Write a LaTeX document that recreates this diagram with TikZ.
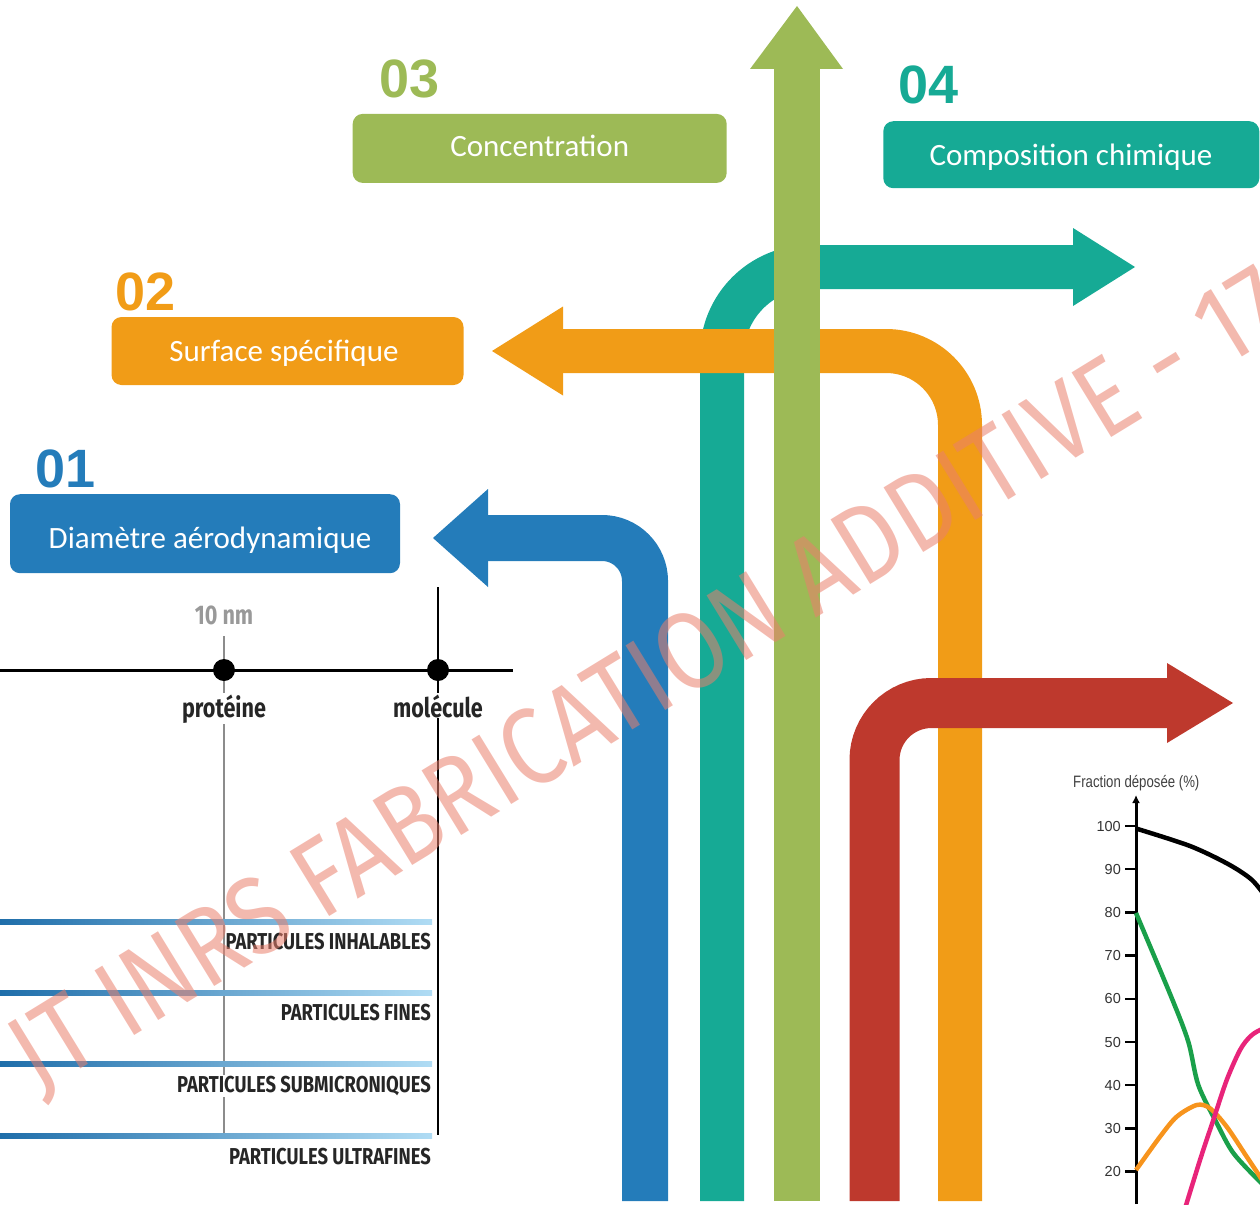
\documentclass[tikz,border=0pt]{standalone}
\usepackage{fontspec}
\usetikzlibrary{calc,arrows.meta}
\newfontfamily\boxfont{Carlito}
\newfontfamily\numfont{Liberation Sans}
\newfontfamily\condfont[FakeStretch=0.8]{Fira Sans}
\newfontfamily\chartfont{Liberation Sans}
\newfontfamily\chartcond[FakeStretch=0.8]{Liberation Sans}
\newfontfamily\wmfont[FakeStretch=0.87]{Fira Sans}

\definecolor{cblue}{HTML}{247CBA}
\definecolor{corange}{HTML}{F19C17}
\definecolor{cgreen}{HTML}{9DBA56}
\definecolor{cteal}{HTML}{16AA95}
\definecolor{cred}{HTML}{BE392D}
\definecolor{wmark}{HTML}{EA7F6C}
\definecolor{ldark}{HTML}{1F6EAA}
\definecolor{llight}{HTML}{B0DCF4}
\definecolor{cpink}{HTML}{E8247A}
\definecolor{cgreen2}{HTML}{1AA04A}
\definecolor{corange2}{HTML}{F7941D}

\tikzset{
  labelbox/.style={fill=#1, rounded corners=10pt, inner sep=0pt},
  boxtxt/.style={anchor=base, inner sep=0pt, text=white,
    font=\boxfont\fontsize{31}{31}\selectfont},
  num/.style={text=#1, anchor=base west, inner sep=0pt,
    font=\numfont\bfseries\fontsize{54}{54}\selectfont},
  scalelbl/.style={inner sep=1pt, fill=white, text=black!85,
    font=\condfont\bfseries\fontsize{23}{23}\selectfont},
  sizelbl/.style={inner sep=1pt, fill=white, text=black!85,
    font=\condfont\bfseries\fontsize{27}{27}\selectfont},
  partline/.style={left color=ldark, right color=llight},
  dot/.style={circle, fill=black, minimum size=22pt, inner sep=0pt},
  curve/.style={line width=4.5pt, line join=round},
  ticklbl/.style={anchor=east, inner sep=0pt, text=black!80,
    font=\chartfont\fontsize{14.5}{14.5}\selectfont}
}

\begin{document}
\begin{tikzpicture}[x=1pt,y=-1pt]
\useasboundingbox (0,0) rectangle (1260,1204);
\clip (0,0) rectangle (1260,1204);

% arrows
\coordinate (tealS) at (722,1201);
\coordinate (tealC) at (722,267);
\coordinate (tealE) at (1074,267);
\coordinate (orS) at (960,1201);
\coordinate (orC) at (960,351);
\coordinate (orE) at (562,351);
\coordinate (redS) at (874.5,1201);
\coordinate (redC) at (874.5,703);
\coordinate (redE) at (1168,703);
\coordinate (grS) at (797,1201);
\coordinate (grE) at (797,68);
\coordinate (blS) at (645,1201);
\coordinate (blC) at (645,538);
\coordinate (blE) at (487,538);

\draw[cteal, line width=44pt, rounded corners=88pt] (tealS) -- (tealC) -- (tealE);
\fill[cteal] ($(tealE)+(-1,-39)$) -- ($(tealE)+(61,0)$) -- ($(tealE)+(-1,39)$) -- cycle;
\draw[corange, line width=44pt, rounded corners=74pt] (orS) -- (orC) -- (orE);
\fill[corange] ($(orE)+(1,-44.5)$) -- ($(orE)+(-70,0)$) -- ($(orE)+(1,44.5)$) -- cycle;
\draw[cred, line width=50pt, rounded corners=57pt] (redS) -- (redC) -- (redE);
\fill[cred] ($(redE)+(-1,-40)$) -- ($(redE)+(65,0)$) -- ($(redE)+(-1,40)$) -- cycle;
\draw[cgreen, line width=46pt] (grS) -- (grE);
\fill[cgreen] ($(grE)+(-47,1)$) -- ($(grE)+(0,-62)$) -- ($(grE)+(46,1)$) -- cycle;
\draw[cblue, line width=46pt, rounded corners=43pt] (blS) -- (blC) -- (blE);
\fill[cblue] ($(blE)+(1,-49)$) -- ($(blE)+(-54,0)$) -- ($(blE)+(1,49)$) -- cycle;

% labels
\node[num=cblue] (n1) at (35,487) {01};
\node[labelbox=cblue, minimum width=390pt, minimum height=79pt] (box1) at (205,533.7) {};
\node[boxtxt] (t1) at (210,548.3) {Diamètre aérodynamique};
\node[num=corange] (n2) at (115,310) {02};
\node[labelbox=corange, minimum width=352pt, minimum height=68pt] (box2) at (287.5,351) {};
\node[boxtxt] (t2) at (284,361) {Surface spécifique};
\node[num=cgreen] (n3) at (379,98) {03};
\node[labelbox=cgreen, minimum width=374pt, minimum height=69pt] (box3) at (539.7,148.4) {};
\node[boxtxt] (t3) at (539.7,156) {Concentration};
\node[num=cteal] (n4) at (898,103) {04};
\node[labelbox=cteal, minimum width=376pt, minimum height=67pt] (box4) at (1071.3,154.7) {};
\node[boxtxt] (t4) at (1071,165) {Composition chimique};

% size scale
\draw[black!45, line width=2pt] (224,636) -- (224,1135);
\draw[black, line width=2.5pt] (438,587) -- (438,1135);
\draw[line width=3pt] (0,670) -- (513,670);
\node[dot] (prot) at (224,670) {};
\node[dot] (mol) at (438,670) {};
\node[sizelbl, fill=none, text=black!40, anchor=base] (nm) at (224,624) {10 nm};
\node[sizelbl, anchor=base] (lprot) at (224,717) {protéine};
\node[sizelbl, anchor=base] (lmol) at (438,717) {molécule};

\node[scalelbl, anchor=base east] (inh) at (432,949) {PARTICULES INHALABLES};
\node[scalelbl, anchor=base east] (fin) at (432,1020.7) {PARTICULES FINES};
\node[scalelbl, anchor=base east] (sub) at (432,1092.7) {PARTICULES SUBMICRONIQUES};
\node[scalelbl, anchor=base east] (ult) at (432,1164) {PARTICULES ULTRAFINES};
\foreach \yy in {921.7,993,1064,1136}
  \shade[partline] (0,\yy-2.5) rectangle (432,\yy+2.5);

% deposition chart
\node[anchor=base west, inner sep=0pt, text=black!75,
  font=\chartcond\fontsize{16.5}{16.5}\selectfont] (ftitle) at (1073,787) {Fraction déposée (\%)};
\coordinate (yaxB) at (1136,1204);
\coordinate (yaxT) at (1136,795);
\draw[line width=3pt, -{Latex[length=8pt,width=8pt]}] (yaxB) -- (yaxT);
\foreach \v in {20,30,...,100}{
  \pgfmathsetmacro\yy{826+(100-\v)*4.32}
  \draw[line width=2.5pt] (1125,\yy) -- (1136,\yy);
  \node[ticklbl] (t\v) at (1121,\yy) {\v};
}
\draw[curve, black] plot[smooth] coordinates {(1136,828.5) (1190,846) (1228,864) (1252,880) (1268,900)};
\draw[curve, cgreen2] plot[smooth] coordinates {(1136,913) (1171.7,998) (1188.3,1041.7) (1198.3,1085) (1216.7,1123) (1233.3,1153) (1260,1181.7) (1272,1192)};
\draw[curve, corange2] plot[smooth] coordinates {(1136,1170) (1160,1136.7) (1176.7,1116.7) (1196.7,1105) (1210,1108.3) (1226.7,1126.7) (1246.7,1156.7) (1260,1176.7) (1270,1192)};
\draw[curve, cpink] plot[smooth] coordinates {(1183,1215) (1200,1160) (1213.3,1120) (1226.7,1080) (1240,1050) (1250,1036.7) (1260,1030) (1275,1025)};

% watermark
\node[anchor=base west, rotate=31.5, inner sep=0pt, text=wmark, text opacity=0.55,
  font=\wmfont\fontsize{110}{110}\selectfont] (wm) at (38,1095) {JT INRS FABRICATION ADDITIVE - 17};
\end{tikzpicture}
\end{document}
